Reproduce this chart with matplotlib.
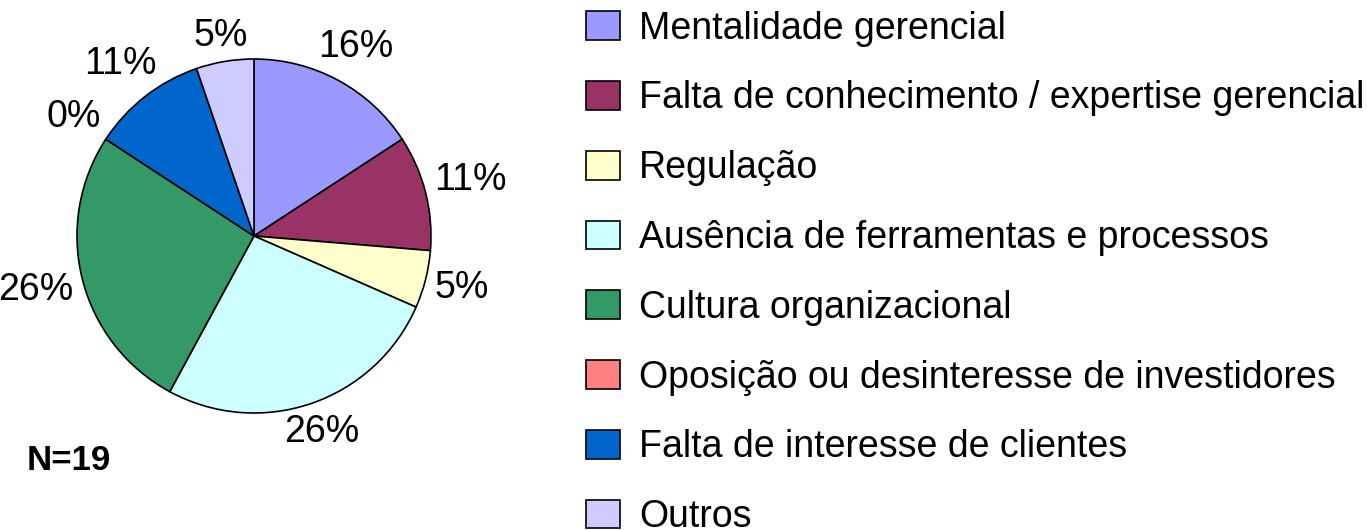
import matplotlib
matplotlib.use("Agg")
import matplotlib.pyplot as plt
import numpy as np

categories = [
    "Mentalidade gerencial",
    "Falta de conhecimento / expertise gerencial",
    "Regulação",
    "Ausência de ferramentas e processos",
    "Cultura organizacional",
    "Oposição ou desinteresse de investidores",
    "Falta de interesse de clientes",
    "Outros",
]
counts = [3, 2, 1, 5, 5, 0, 2, 1]
pct_labels = ["16%", "11%", "5%", "26%", "26%", "0%", "11%", "5%"]
colors = ["#9999FF", "#993366", "#FFFFCC", "#CCFFFF", "#339966", "#FF8080", "#0066CC", "#CCCCFF"]
n_text = "N=19"

plt.rcParams['font.family'] = ['Liberation Sans', 'DejaVu Sans']
W, H = 1367, 530
fig = plt.figure(figsize=(W / 100, H / 100), dpi=100)

cx, cy, r = 254, 236, 177
ax = fig.add_axes([(cx - r) / W, (H - cy - r) / H, 2 * r / W, 2 * r / H])
wedges, _ = ax.pie(
    counts, colors=colors, startangle=90, counterclock=False,
    wedgeprops=dict(edgecolor="black", linewidth=1.2),
)
ax.set_xlim(-1, 1)
ax.set_ylim(-1, 1)
ax.set_aspect("equal")

renderer = fig.canvas.get_renderer()
gap = 8.0  # pixels between circle and label box
for w, lab in zip(wedges, pct_labels):
    th = np.deg2rad((w.theta1 + w.theta2) / 2)
    c, s = np.cos(th), np.sin(th)
    t = ax.annotate(lab, xy=(0, 0), xytext=(0, 0), textcoords="offset pixels",
                    ha="center", va="center", fontsize=27, annotation_clip=False)
    bb = t.get_window_extent(renderer)
    hw, hh = bb.width / 2, 14.0
    lo, hi = 0.0, 400.0
    for _ in range(60):
        m = (lo + hi) / 2
        dx = max(abs(m * c) - hw, 0.0)
        dy = max(abs(m * s) - hh, 0.0)
        if np.hypot(dx, dy) < r + gap:
            lo = m
        else:
            hi = m
    t.set_position((hi * c, hi * s + 1))

fig.text(27 / W, 1 - 460 / H, n_text, fontsize=25, fontweight="bold", ha="left", va="center")

leg = fig.legend(
    wedges, categories, loc="upper left", bbox_to_anchor=(582 / W, 1 - 7 / H),
    frameon=False, fontsize=27, handlelength=0.92, handleheight=0.8,
    handletextpad=0.5, labelspacing=0.9, borderaxespad=0, borderpad=0.1,
)

fig.savefig("out.png", dpi=100)
